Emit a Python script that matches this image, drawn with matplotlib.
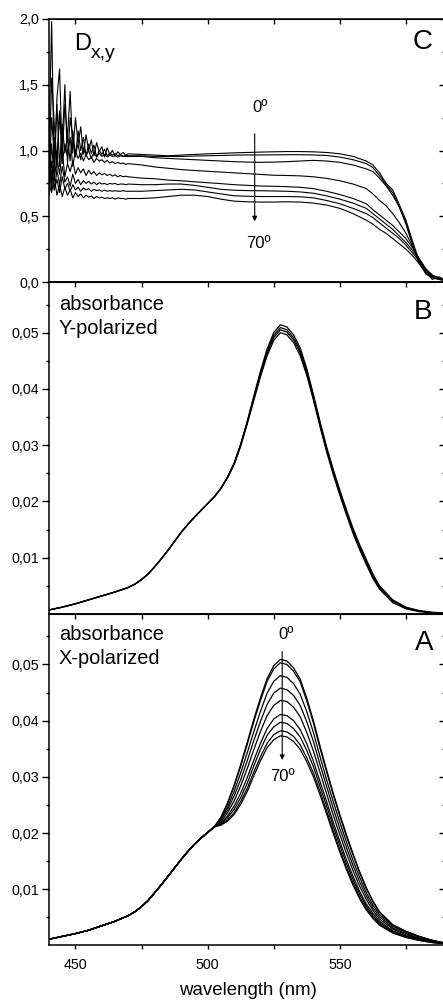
import matplotlib
matplotlib.use('Agg')
import matplotlib.pyplot as plt
from matplotlib.ticker import FixedLocator

plt.rcParams['font.family'] = ['Liberation Sans', 'DejaVu Sans']

W, H = 443, 1001

# ---- panel A / B wavelength grids (nm)
wl_blue_a = [440, 445, 450, 455, 460, 465, 470, 472.5, 475, 477.5, 480, 482.5, 485, 487.5,
             490, 492.5, 495, 497.5, 500, 502.5]
wl_red_a = [505, 507.5, 510, 512.5, 515, 517.5, 520, 522.5, 525, 527.5, 530, 532.5, 535,
            537.5, 540, 542.5, 545, 547.5, 550, 552.5, 555, 557.5, 560, 562.5, 565,
            570, 575, 580, 585, 590]
wl_blue_b = wl_blue_a + [505]
wl_red_b = wl_red_a[1:]

# panel A, X-polarized absorbance: common blue wing, then one list per angle (0..70 deg)
abs_x_wing = [.0011, .0016, .0021, .0027, .0035, .0043, .0053, .0060, .0069, .0080, .0094,
              .0108, .0123, .0138, .0153, .0167, .0180, .0191, .0201, .0211]
abs_x = [
    [.0228, .0253, .0285, .0322, .0362, .0403, .0441, .0475, .0498, .0509, .0506, .0494, .0474,
     .0440, .0400, .0355, .0312, .0271, .0233, .0197, .0163, .0131, .0103, .0079, .0060,
     .0037, .0025, .0016, .0009, .0004],
    [.0227, .0252, .0283, .0319, .0358, .0399, .0436, .0470, .0492, .0503, .0500, .0488, .0469,
     .0435, .0396, .0351, .0309, .0268, .0230, .0194, .0161, .0129, .0101, .0078, .0059,
     .0036, .0025, .0016, .0009, .0004],
    [.0225, .0246, .0274, .0307, .0343, .0381, .0417, .0449, .0470, .0480, .0477, .0466, .0447,
     .0416, .0379, .0336, .0295, .0256, .0219, .0184, .0151, .0121, .0094, .0072, .0055,
     .0034, .0023, .0015, .0008, .0004],
    [.0223, .0241, .0266, .0295, .0329, .0365, .0399, .0429, .0449, .0458, .0455, .0445, .0427,
     .0398, .0363, .0322, .0283, .0244, .0208, .0174, .0142, .0113, .0088, .0067, .0051,
     .0031, .0021, .0013, .0007, .0003],
    [.0220, .0236, .0257, .0284, .0315, .0349, .0381, .0409, .0427, .0436, .0434, .0424, .0407,
     .0379, .0346, .0308, .0270, .0232, .0197, .0164, .0133, .0105, .0082, .0062, .0047,
     .0029, .0019, .0012, .0007, .0003],
    [.0218, .0230, .0248, .0271, .0299, .0330, .0360, .0386, .0403, .0411, .0409, .0400, .0384,
     .0359, .0328, .0292, .0256, .0219, .0185, .0152, .0123, .0096, .0074, .0057, .0043,
     .0026, .0017, .0011, .0006, .0003],
    [.0216, .0227, .0242, .0263, .0289, .0320, .0349, .0374, .0389, .0397, .0395, .0386, .0371,
     .0347, .0318, .0283, .0248, .0212, .0178, .0146, .0117, .0091, .0070, .0053, .0040,
     .0025, .0016, .0010, .0006, .0003],
    [.0215, .0223, .0236, .0256, .0280, .0309, .0336, .0360, .0375, .0382, .0380, .0372, .0357,
     .0334, .0307, .0274, .0239, .0204, .0170, .0139, .0111, .0086, .0066, .0050, .0038,
     .0023, .0015, .0009, .0005, .0003],
    [.0214, .0221, .0233, .0251, .0274, .0302, .0329, .0352, .0366, .0373, .0371, .0363, .0349,
     .0327, .0300, .0268, .0234, .0199, .0166, .0135, .0107, .0083, .0063, .0048, .0036,
     .0022, .0014, .0009, .0005, .0003],
]

# panel B, Y-polarized absorbance
abs_y_wing = [.0007, .0012, .0018, .0025, .0032, .0039, .0047, .0053, .0061, .0071, .0084,
              .0098, .0113, .0129, .0145, .0159, .0172, .0184, .0196, .0208, .0223]
abs_y = [
    [.0243, .0268, .0302, .0343, .0388, .0432, .0471, .0500, .0514, .0510, .0496, .0473, .0436,
     .0390, .0342, .0297, .0257, .0220, .0185, .0152, .0123, .0097, .0071, .0050, .0025,
     .0012, .0006, .0003, .0001],
    [.0243, .0267, .0301, .0341, .0385, .0428, .0467, .0495, .0509, .0505, .0491, .0468, .0432,
     .0387, .0339, .0294, .0254, .0217, .0182, .0149, .0120, .0094, .0068, .0048, .0023,
     .0011, .0005, .0002, .0001],
    [.0242, .0266, .0300, .0340, .0383, .0425, .0463, .0491, .0505, .0501, .0487, .0464, .0428,
     .0384, .0336, .0291, .0251, .0214, .0179, .0146, .0117, .0091, .0066, .0046, .0022,
     .0010, .0005, .0002, .0001],
    [.0242, .0265, .0298, .0338, .0380, .0422, .0459, .0486, .0500, .0496, .0482, .0459, .0424,
     .0380, .0333, .0288, .0248, .0211, .0176, .0143, .0114, .0088, .0063, .0044, .0020,
     .0009, .0004, .0002, .0001],
]

# panel C, dichroic ratio D_x,y
wl_c = list(range(440, 471)) + [475, 480, 485, 490, 495, 500, 505, 510, 515, 520, 525, 530,
                                535, 540, 545, 550, 555, 560, 562.5, 565, 567.5, 570, 572.5,
                                575, 577.5, 580, 582.5, 585, 587.5, 590]
ratio = [
    [1.10, 1.98, 0.78, 1.40, 1.62, 0.95, 1.35, 1.10, 1.45, 0.98, 1.25, 1.05, 1.18, 0.97, 1.12,
     1.00, 1.08, 0.96, 1.06, 0.99, 1.03, 0.95, 1.02, 0.97, 1.00, 0.96, 0.99, 0.97, 0.985, 0.965,
     0.975,
     0.97, 0.965, 0.96, 0.965, 0.97, 0.975, 0.978, 0.982, 0.985, 0.988, 0.99, 0.992, 0.992, 0.99,
     0.985, 0.975, 0.955, 0.92,
     0.89, 0.83, 0.75, 0.70, 0.59, 0.47, 0.31, 0.16, 0.06, 0.04, 0.02, 0.03],
    [0.85, 1.55, 1.20, 0.92, 1.30, 1.05, 1.50, 0.90, 1.25, 1.10, 0.95, 1.15, 1.00, 1.10, 0.96,
     1.05, 0.98, 1.04, 0.95, 1.00, 0.97, 1.01, 0.96, 0.98, 0.965, 0.975, 0.96, 0.97, 0.955, 0.965,
     0.96,
     0.96, 0.955, 0.955, 0.955, 0.958, 0.96, 0.962, 0.965, 0.966, 0.966, 0.967, 0.968, 0.968, 0.966,
     0.962, 0.95, 0.93, 0.90,
     0.87, 0.81, 0.74, 0.68, 0.57, 0.45, 0.29, 0.14, 0.07, 0.02, 0.04, 0.01],
    [0.75, 1.25, 0.95, 1.35, 0.88, 1.20, 0.98, 1.10, 0.92, 1.15, 0.97, 1.05, 0.93, 1.02, 0.96,
     1.00, 0.94, 0.99, 0.95, 0.98, 0.955, 0.97, 0.95, 0.965, 0.955, 0.96, 0.95, 0.96, 0.955, 0.955,
     0.955,
     0.955, 0.945, 0.94, 0.935, 0.93, 0.925, 0.92, 0.915, 0.912, 0.91, 0.912, 0.915, 0.92, 0.925,
     0.92, 0.91, 0.89, 0.86,
     0.84, 0.79, 0.73, 0.66, 0.57, 0.44, 0.28, 0.14, 0.07, 0.03, 0.02, 0.01],
    [1.20, 0.70, 1.10, 0.85, 1.30, 0.90, 1.05, 0.95, 1.10, 0.88, 1.00, 0.94, 0.98, 0.92, 0.97,
     0.93, 0.95, 0.91, 0.94, 0.92, 0.93, 0.91, 0.925, 0.905, 0.915, 0.90, 0.91, 0.90, 0.905, 0.895,
     0.90,
     0.89, 0.875, 0.865, 0.855, 0.848, 0.842, 0.836, 0.83, 0.824, 0.818, 0.812, 0.81, 0.807, 0.80,
     0.788, 0.77, 0.745, 0.71,
     0.67, 0.62, 0.58, 0.52, 0.45, 0.37, 0.27, 0.17, 0.09, 0.05, 0.03, 0.02],
    [0.70, 1.05, 0.78, 0.95, 0.82, 1.00, 0.80, 0.90, 0.84, 0.92, 0.82, 0.87, 0.83, 0.86, 0.81,
     0.85, 0.82, 0.84, 0.81, 0.83, 0.815, 0.825, 0.81, 0.82, 0.805, 0.815, 0.80, 0.81, 0.80, 0.805,
     0.80,
     0.79, 0.785, 0.775, 0.77, 0.762, 0.755, 0.748, 0.74, 0.735, 0.73, 0.728, 0.725, 0.72, 0.71,
     0.69, 0.665, 0.635, 0.595,
     0.55, 0.51, 0.47, 0.43, 0.38, 0.33, 0.26, 0.18, 0.10, 0.05, 0.03, 0.02],
    [0.72, 0.92, 0.70, 0.85, 0.74, 0.88, 0.76, 0.80, 0.73, 0.82, 0.75, 0.78, 0.74, 0.77, 0.75,
     0.765, 0.745, 0.76, 0.74, 0.755, 0.745, 0.75, 0.74, 0.75, 0.745, 0.75, 0.74, 0.745, 0.745,
     0.74, 0.745,
     0.74, 0.74, 0.745, 0.745, 0.735, 0.72, 0.705, 0.698, 0.695, 0.694, 0.692, 0.69, 0.685, 0.675,
     0.655, 0.63, 0.60, 0.56,
     0.52, 0.48, 0.44, 0.40, 0.35, 0.30, 0.24, 0.17, 0.10, 0.05, 0.03, 0.02],
    [0.66, 0.85, 0.70, 0.78, 0.68, 0.80, 0.71, 0.75, 0.69, 0.74, 0.70, 0.72, 0.69, 0.715, 0.70,
     0.71, 0.69, 0.705, 0.695, 0.70, 0.69, 0.70, 0.69, 0.695, 0.69, 0.695, 0.69, 0.69, 0.695,
     0.69, 0.69,
     0.69, 0.695, 0.70, 0.705, 0.70, 0.685, 0.67, 0.656, 0.652, 0.65, 0.65, 0.65, 0.648, 0.64,
     0.62, 0.595, 0.56, 0.52,
     0.49, 0.45, 0.41, 0.37, 0.33, 0.28, 0.22, 0.16, 0.09, 0.05, 0.03, 0.02],
    [0.75, 0.68, 0.80, 0.66, 0.74, 0.65, 0.72, 0.66, 0.70, 0.64, 0.68, 0.65, 0.67, 0.64, 0.66,
     0.645, 0.655, 0.635, 0.65, 0.64, 0.645, 0.635, 0.64, 0.635, 0.64, 0.63, 0.64, 0.635, 0.635,
     0.63, 0.635,
     0.635, 0.64, 0.65, 0.66, 0.66, 0.65, 0.63, 0.615, 0.61, 0.608, 0.608, 0.61, 0.608, 0.60,
     0.585, 0.56, 0.52, 0.47,
     0.44, 0.40, 0.37, 0.33, 0.29, 0.25, 0.20, 0.14, 0.08, 0.04, 0.02, 0.01],
]

x_major = [450, 500, 550]
x_minor = [450, 475, 500, 525, 550, 575]
x_labels = ['450', '500', '550']
c_major = [0.0, 0.5, 1.0, 1.5, 2.0]
c_minor = [0.25, 0.75, 1.25, 1.75]
c_labels = ['0,0', '0,5', '1,0', '1,5', '2,0']
ab_major = [0.01, 0.02, 0.03, 0.04, 0.05]
ab_minor = [0.005, 0.015, 0.025, 0.035, 0.045, 0.055]
ab_labels = ['0,01', '0,02', '0,03', '0,04', '0,05']


def px(x, y):
    return x / W, 1 - y / H


fig = plt.figure(figsize=(W / 100, H / 100), dpi=100)
left = 49 / W
width = (445.6 - 49) / W
axC = fig.add_axes([left, 1 - 282 / H, width, 263 / H])
axB = fig.add_axes([left, 1 - 613.9 / H, width, 331.9 / H])
axA = fig.add_axes([left, 1 - 945.4 / H, width, 331.5 / H])

for ys in ratio:
    axC.plot(wl_c, ys, color='black', lw=0.8)
for ys in abs_y:
    axB.plot(wl_blue_b + wl_red_b, abs_y_wing + ys, color='black', lw=0.9)
for ys in abs_x:
    axA.plot(wl_blue_a + wl_red_a, abs_x_wing + ys, color='black', lw=0.9)

for ax, ymaj, ymin, ylab, ylim in [(axC, c_major, c_minor, c_labels, (0, 2.0)),
                                   (axB, ab_major, ab_minor, ab_labels, (0, 0.059)),
                                   (axA, ab_major, ab_minor, ab_labels, (0, 0.059))]:
    ax.set_xlim(440, 590)
    ax.set_ylim(*ylim)
    for s in ax.spines.values():
        s.set_linewidth(1.1)
    ax.set_yticks(ymaj)
    ax.set_yticklabels(ylab, fontsize=10.3)
    ax.yaxis.set_minor_locator(FixedLocator(ymin))
    ax.set_xticks(x_major)
    ax.xaxis.set_minor_locator(FixedLocator(x_minor))
    ax.tick_params(axis='y', which='major', direction='out', length=4.8, width=1.0, pad=2.4)
    ax.tick_params(axis='y', which='minor', direction='out', length=2.2, width=1.0)
    ax.tick_params(axis='x', which='both', direction='out', length=3.1, width=1.0, pad=6)
    ax.tick_params(right=False, top=False)

    sr = ax.secondary_yaxis('right')
    sr.set_yticks(ymaj)
    sr.yaxis.set_minor_locator(FixedLocator(ymin))
    sr.tick_params(which='major', direction='in', length=5.2, width=1.0, labelright=False)
    sr.tick_params(which='minor', direction='in', length=3.0, width=1.0)

    st = ax.secondary_xaxis('top')
    st.set_xticks(x_minor)
    st.tick_params(direction='in', length=3.4, width=1.0, labeltop=False)

axC.set_xticklabels([])
axB.set_xticklabels([])
axA.set_xticklabels(x_labels, fontsize=10.3)

# arrows and angle labels
axC.annotate('', xy=(517.8, 0.44), xytext=(517.8, 1.148),
             arrowprops=dict(arrowstyle='-|>', lw=0.8, color='black', mutation_scale=7))
axC.text(519.7, 1.295, '0º', ha='center', va='baseline', fontsize=12)
axC.text(519.4, 0.256, '70º', ha='center', va='baseline', fontsize=12)
axA.annotate('', xy=(528.2, 0.0325), xytext=(528.2, 0.0528),
             arrowprops=dict(arrowstyle='-|>', lw=0.8, color='black', mutation_scale=7))
axA.text(529.5, 0.0545, '0º', ha='center', va='baseline', fontsize=12)
axA.text(528.4, 0.0292, '70º', ha='center', va='baseline', fontsize=12)

# panel texts
fig.text(*px(74, 50), 'D', fontsize=17, va='baseline')
fig.text(*px(90.5, 58), 'x,y', fontsize=14, va='baseline')
fig.text(*px(423, 42), 'C', fontsize=20, ha='center', va='center')
fig.text(*px(423, 312), 'B', fontsize=20, ha='center', va='center')
fig.text(*px(424, 643), 'A', fontsize=20, ha='center', va='center')
fig.text(*px(59, 309.5), 'absorbance', fontsize=14.4, va='baseline')
fig.text(*px(59, 333.5), 'Y-polarized', fontsize=14.4, va='baseline')
fig.text(*px(59, 640.5), 'absorbance', fontsize=14.4, va='baseline')
fig.text(*px(59, 664), 'X-polarized', fontsize=14.4, va='baseline')
fig.text(*px(247.5, 995), 'wavelength (nm)', fontsize=13.4, ha='center', va='baseline')

fig.savefig('out.png', dpi=100)
